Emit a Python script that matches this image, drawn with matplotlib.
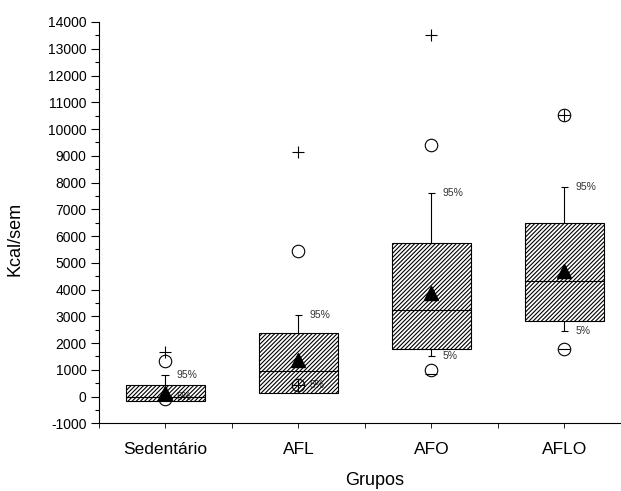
import numpy as np
import matplotlib
matplotlib.use("Agg")
import matplotlib.pyplot as plt
from matplotlib.ticker import MultipleLocator

plt.rcParams["font.family"] = ["Liberation Sans", "DejaVu Sans"]
plt.rcParams["hatch.linewidth"] = 0.8
plt.rcParams["axes.unicode_minus"] = False

# group statistics (kcal/week)
groups = ["Sedentário", "AFL", "AFO", "AFLO"]
q1 = [-164, 134, 1792, 2823]
median = [0, 944, 3247, 4315]
q3 = [422, 2374, 5748, 6469]
mean = [130, 1355, 3856, 4700]
p5 = [-10, 422, 1516, 2449]
p95 = [795, 3035, 7626, 7825]
p1 = [-80, 422, 1000, 1766]
p99 = [1318, 5424, 9391, 10512]
min_vals = [-100, 422, 850, 1766]
max_vals = [1650, 9155, 13524, 10512]
min_markers = ["_", "+", "_", "_"]

pos = np.arange(1, len(groups) + 1)
box_w = 0.6
cap_w = 0.03

fig = plt.figure(figsize=(6.21, 4.91), dpi=100)
ax = fig.add_axes([0.1594, 0.1379, 0.8567, 0.8173])

# boxes with diagonal hatch, transparent face
ax.bar(pos, np.array(q3) - np.array(q1), bottom=q1, width=box_w,
       fill=False, hatch="////////", edgecolor="black", linewidth=0.8, zorder=2)
ax.hlines(median, pos - box_w / 2, pos + box_w / 2, color="black",
          linewidth=0.8, zorder=2)

for i, x in enumerate(pos):
    # upper whisker to 95%
    ax.vlines(x, q3[i], p95[i], color="black", linewidth=0.8, zorder=1)
    ax.hlines(p95[i], x - cap_w, x + cap_w, color="black", linewidth=0.8, zorder=1)
    ax.text(x + 0.08, p95[i], "95%", fontsize=7.5, color="#333333",
            ha="left", va="center", zorder=1)
    # lower whisker to 5% (only when it falls below the box)
    if p5[i] < q1[i]:
        ax.vlines(x, p5[i], q1[i], color="black", linewidth=0.8, zorder=1)
        ax.hlines(p5[i], x - cap_w, x + cap_w, color="black", linewidth=0.8, zorder=1)
    ax.text(x + 0.08, p5[i], "5%", fontsize=7.5, color="#333333",
            ha="left", va="center", zorder=1)
    # min / max markers
    ax.plot(x, max_vals[i], marker="+", color="black", markersize=9,
            markeredgewidth=0.8, zorder=1)
    ax.plot(x, min_vals[i], marker=min_markers[i], color="black", markersize=9,
            markeredgewidth=0.8, zorder=1)

# 1% / 99% circles
ax.plot(pos, p1, linestyle="none", marker="o", markersize=9,
        markerfacecolor="none", markeredgecolor="black", markeredgewidth=0.8, zorder=1)
ax.plot(pos, p99, linestyle="none", marker="o", markersize=9,
        markerfacecolor="none", markeredgecolor="black", markeredgewidth=0.8, zorder=1)

# means
ax.plot(pos, mean, linestyle="none", marker="^", markersize=9.5,
        color="black", zorder=4)

ax.set_xlim(0.5, 4.5)
ax.set_ylim(-1000, 14000)
ax.set_xticks(pos)
ax.set_xticklabels(groups, fontsize=12.5)
ax.xaxis.set_minor_locator(MultipleLocator(0.5))
ax.yaxis.set_major_locator(MultipleLocator(1000))
ax.yaxis.set_minor_locator(MultipleLocator(500))
ax.tick_params(axis="y", which="major", length=6, width=0.8, pad=3, labelsize=10)
ax.tick_params(axis="y", which="minor", length=3, width=0.8)
ax.tick_params(axis="x", which="both", length=3.5, width=0.6, pad=10)

for side in ["top", "right"]:
    ax.spines[side].set_visible(False)
for side in ["left", "bottom"]:
    ax.spines[side].set_linewidth(0.8)

ax.set_xlabel("Grupos", fontsize=13)
ax.xaxis.set_label_coords(0.519, -0.142)
ax.xaxis.label.set_verticalalignment("center")
ax.set_ylabel("Kcal/sem", fontsize=13)
ax.yaxis.set_label_coords(-0.158, 0.459)
ax.yaxis.label.set_verticalalignment("center")

fig.savefig("out.png", dpi=100)
